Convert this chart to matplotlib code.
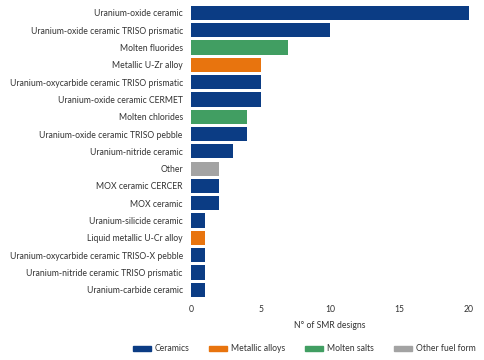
import matplotlib
matplotlib.use("Agg")
import matplotlib.pyplot as plt
from matplotlib.patches import Patch

plt.rcParams['font.family'] = ['Lato', 'DejaVu Sans']

categories = [
    "Uranium-oxide ceramic",
    "Uranium-oxide ceramic TRISO prismatic",
    "Molten fluorides",
    "Metallic U-Zr alloy",
    "Uranium-oxycarbide ceramic TRISO prismatic",
    "Uranium-oxide ceramic CERMET",
    "Molten chlorides",
    "Uranium-oxide ceramic TRISO pebble",
    "Uranium-nitride ceramic",
    "Other",
    "MOX ceramic CERCER",
    "MOX ceramic",
    "Uranium-silicide ceramic",
    "Liquid metallic U-Cr alloy",
    "Uranium-oxycarbide ceramic TRISO-X pebble",
    "Uranium-nitride ceramic TRISO prismatic",
    "Uranium-carbide ceramic",
]
values = [20, 10, 7, 5, 5, 5, 4, 4, 3, 2, 2, 2, 1, 1, 1, 1, 1]
groups = ["Ceramics", "Ceramics", "Molten salts", "Metallic alloys", "Ceramics",
          "Ceramics", "Molten salts", "Ceramics", "Ceramics", "Other fuel form",
          "Ceramics", "Ceramics", "Ceramics", "Metallic alloys", "Ceramics",
          "Ceramics", "Ceramics"]
group_names = ["Ceramics", "Metallic alloys", "Molten salts", "Other fuel form"]
group_colors = {"Ceramics": "#0b3c84", "Metallic alloys": "#e8740e",
                "Molten salts": "#419e62", "Other fuel form": "#a3a3a3"}
xticks = [0, 5, 10, 15, 20]

fs = 6.25
fig = plt.figure(figsize=(4.85, 3.6), dpi=100)
ax = fig.add_axes([0.394, 0.171, 0.573, 0.817])
ypos = list(range(len(categories)))
ax.barh(ypos, values, height=0.82, color=[group_colors[g] for g in groups])
ax.set_yticks(ypos)
ax.set_yticklabels(categories, fontsize=fs, color="#333333")
ax.set_ylim(len(categories) - 0.5, -0.5)
ax.set_xlim(0, 20)
ax.set_xticks(xticks)
ax.set_xticklabels([str(t) for t in xticks], fontsize=fs, color="#333333")
ax.tick_params(axis='y', length=0, pad=6)
ax.tick_params(axis='x', length=0, pad=5)
for s in ax.spines.values():
    s.set_visible(False)
ax.set_xlabel("N° of SMR designs", fontsize=fs, color="#333333", labelpad=5)

handles = [Patch(color=group_colors[g], label=g) for g in group_names]
fig.legend(handles=handles, loc="center right", bbox_to_anchor=(0.981, 0.0306), ncol=4,
           frameon=False, fontsize=fs, handlelength=2.07, handleheight=0.6,
           columnspacing=2.3, handletextpad=0.45, labelcolor="#333333",
           borderpad=0, borderaxespad=0)

fig.savefig("out.png", dpi=100)
